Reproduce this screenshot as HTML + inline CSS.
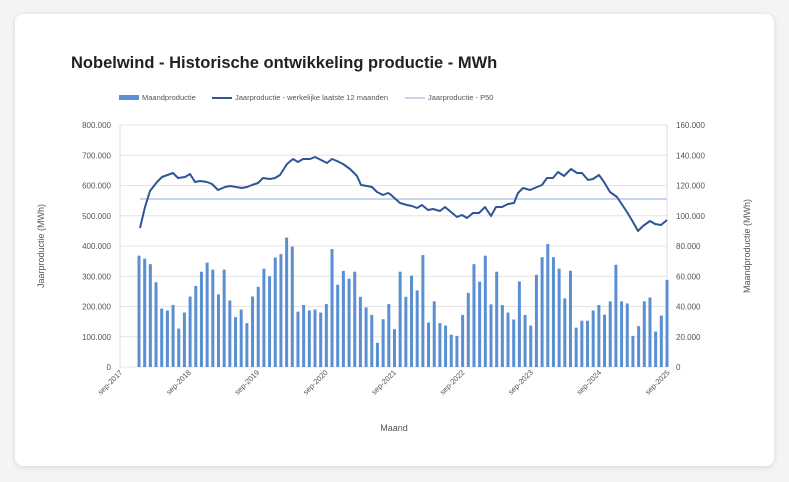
<!DOCTYPE html>
<html><head><meta charset="utf-8"><style>
body{margin:0;background:#f4f4f4;width:789px;height:482px;overflow:hidden;font-family:"Liberation Sans",sans-serif}
.card{position:absolute;left:15px;top:14px;width:759px;height:452px;background:#fff;border-radius:8px;box-shadow:0 1px 6px rgba(0,0,0,.12)}
</style></head><body>
<div class="card"></div>
<svg id="s" width="789" height="482" style="position:absolute;left:0;top:0" font-family="Liberation Sans, sans-serif">
<text x="71" y="68" font-size="16.5" font-weight="bold" fill="#222">Nobelwind - Historische ontwikkeling productie - MWh</text>
<rect x="119" y="95" width="20" height="5" fill="#5b8fd4"/><text x="142" y="100" font-size="7.5" fill="#555">Maandproductie</text>
<line x1="212" y1="98" x2="232" y2="98" stroke="#2f5597" stroke-width="2"/><text x="235" y="100" font-size="7.5" fill="#555">Jaarproductie - werkelijke laatste 12 maanden</text>
<line x1="405" y1="98" x2="425" y2="98" stroke="#c5d5ea" stroke-width="2"/><text x="428" y="100" font-size="7.5" fill="#555">Jaarproductie - P50</text>
<g id="grid"></g>
<line x1="120" y1="125" x2="120" y2="367" stroke="#ddd"/>
<line x1="667" y1="125" x2="667" y2="367" stroke="#ddd"/>
<g id="bars" fill="#5b8fd4"></g>
<line x1="140" y1="199" x2="667" y2="199" stroke="#c5d5ea" stroke-width="2"/>
<polyline fill="none" stroke="#2f5597" stroke-width="2" stroke-linejoin="round" points="140,228 145,207 150,191 157,182 162,177 173,173 178,178 185,177 190,174 195,182 200,181 207,182 212,184 218,190 225,187 230,186 242,188 247,187 252,185 258,183 263,178 270,179 275,178 280,175 287,164 293,159 298,162 303,159 310,159 315,157 321,160 327,163 332,159 337,161 343,164 350,169 357,176 361,185 367,186 372,187 377,192 383,195 388,193 390,194 400,203 407,205 412,206 417,208 422,205 428,210 433,209 440,211 445,207 457,217 462,215 467,218 473,213 479,213 485,207 491,216 496,207 502,207 508,204 514,203 518,193 523,188 530,190 537,187 542,185 547,178 553,178 558,172 564,176 571,169 577,173 582,173 588,180 593,179 599,175 604,182 610,192 617,197 627,212 633,222 638,231 643,226 650,221 655,224 661,225 667,220"/>
<g id="lab" font-size="8" fill="#555"></g>
<text x="394" y="431" font-size="9" fill="#555" text-anchor="middle">Maand</text>
<text transform="translate(44,246) rotate(-90)" font-size="9" fill="#555" text-anchor="middle">Jaarproductie (MWh)</text>
<text transform="translate(750,246) rotate(-90)" font-size="9" fill="#555" text-anchor="middle">Maandproductie (MWh)</text>
</svg>
<script>
var ns="http://www.w3.org/2000/svg";
function el(p,t,a,tx){var e=document.createElementNS(ns,t);for(var k in a)e.setAttribute(k,a[k]);if(tx)e.textContent=tx;document.getElementById(p).appendChild(e);}
var L=["0","100.000","200.000","300.000","400.000","500.000","600.000","700.000","800.000"];
var R=["0","20.000","40.000","60.000","80.000","100.000","120.000","140.000","160.000"];
for(var i=0;i<9;i++){var y=367-i*30.25;
el("grid","line",{x1:120,x2:667,y1:y,y2:y,stroke:"#e4e4e4"});
el("lab","text",{x:111,y:y+3,"text-anchor":"end"},L[i]);
el("lab","text",{x:676,y:y+3},R[i]);}
var b=[368,358,340,280,193,187,205,127,180,233,268,315,345,322,240,322,220,165,190,145,233,265,325,300,362,373,428,398,183,205,187,190,180,208,390,272,318,292,315,232,197,172,80,158,208,125,315,232,302,253,370,147,217,145,137,107,103,172,245,340,282,368,207,315,205,180,157,283,172,137,305,363,407,363,325,227,318,130,153,153,187,205,173,217,338,217,210,103,135,217,230,117,170,288];
for(var i=0;i<b.length;i++){var x=139+i*(528/(b.length-1));var h=b[i]*0.3025;
el("bars","rect",{x:x-1.5,y:367-h,width:3,height:h});}
var yrs=["2017","2018","2019","2020","2021","2022","2023","2024","2025"];
for(var i=0;i<9;i++){var x=120+i*68.4;
el("lab","text",{transform:"translate("+(x+3)+",373) rotate(-45)","text-anchor":"end","font-size":"7.5"},"sep-"+yrs[i]);}
</script>
</body></html>
